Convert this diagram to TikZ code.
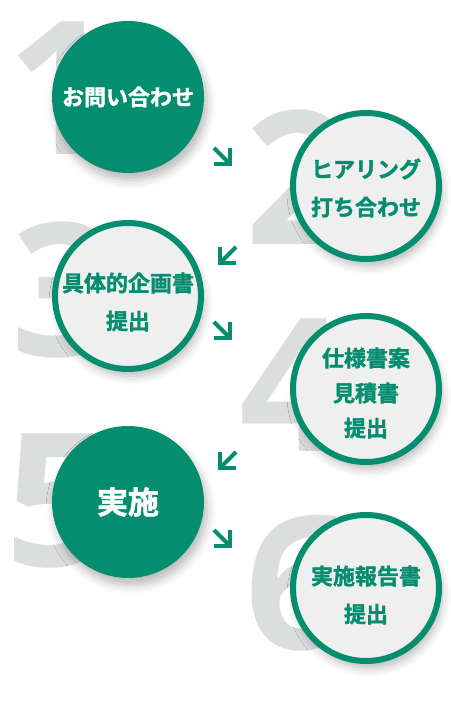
\documentclass[tikz,border=0pt]{standalone}
\usepackage{fontspec}
\usepackage{tikz}
\usetikzlibrary{positioning}
\usetikzlibrary{arrows.meta}
\usetikzlibrary{shadows.blur}
\newfontfamily\jpfont{Noto Sans CJK JP Bold}[FakeBold=1.6]
\newfontfamily\numfont{Open Sans}[UprightFont={* Bold}]
\definecolor{stepgreen}{HTML}{048D6E}
\definecolor{numgray}{HTML}{DCDDDD}
\definecolor{ringfill}{HTML}{EFEFEF}
\tikzstyle{stepshadow} = [blur shadow={shadow xshift=3pt, shadow yshift=-7pt,
  shadow blur radius=9pt, shadow opacity=28}]
\tikzstyle{solidstep} = [circle, fill=stepgreen, minimum size=152pt, inner sep=0pt,
  outer sep=0pt, stepshadow]
\tikzstyle{ringstep} = [circle, fill=ringfill, draw=stepgreen, line width=6pt,
  minimum size=146pt, inner sep=0pt, outer sep=0pt, stepshadow]
\tikzstyle{steptext} = [inner sep=0pt, align=center, text=stepgreen,
  font=\jpfont\fontsize{22}{38}\selectfont]
\tikzstyle{bignum} = [anchor=base west, inner sep=0pt, text=numgray,
  font=\numfont\fontsize{186}{186}\selectfont]
\tikzstyle{flow} = [draw=stepgreen, line width=4pt, -{Straight Barb[angle=90:16pt]}]

\begin{document}
\begin{tikzpicture}[x=1pt, y=1pt]
  \useasboundingbox (0,0) rectangle (450,701);
  % step numbers
  \node[bignum] (n1) at (7,546) {1};
  \node[bignum] (n2) at (245,456) {2};
  \node[bignum] (n3) at (11,344) {3};
  \node[bignum] (n4) at (239,249) {4};
  \node[bignum] (n5) at (5,134) {5};
  \node[bignum] (n6) at (245,51) {6};
  % left column
  \node[solidstep] (c1) at (128,604) {};
  \node[ringstep, below = 50pt of c1] (c3) {};
  \node[solidstep, below = 57pt of c3] (c5) {};
  % right column
  \node[ringstep, right = 89pt of c1, yshift = -89pt] (c2) {};
  \node[ringstep, below = 57pt of c2] (c4) {};
  \node[ringstep, below = 53pt of c4] (c6) {};
  % texts
  \node[steptext, text=white] (t1) at (c1) {お問い合わせ};
  \node[steptext, yshift = -2pt] (t2) at (c2) {ヒアリング\\打ち合わせ};
  \node[steptext, yshift = -6pt] (t3) at (c3) {具体的企画書\\提出};
  \node[steptext, yshift = -4pt, font=\jpfont\fontsize{22}{35}\selectfont] (t4) at (c4) {仕様書案\\見積書\\提出};
  \node[steptext, text=white, font=\jpfont\fontsize{31}{38}\selectfont] (t5) at (c5) {実施};
  \node[steptext, yshift = -7pt] (t6) at (c6) {実施報告書\\提出};
  % arrows
  \coordinate (a1s) at (214,553); \coordinate (a1e) at (232,535);
  \coordinate (a2s) at (236,454); \coordinate (a2e) at (218,436);
  \coordinate (a3s) at (214,379); \coordinate (a3e) at (232,361);
  \coordinate (a4s) at (236,249); \coordinate (a4e) at (218,231);
  \coordinate (a5s) at (214,171); \coordinate (a5e) at (232,153);
  \foreach \i in {1,...,5} {
    \draw[flow] (a\i s) -- (a\i e);
  }
\end{tikzpicture}
\end{document}
